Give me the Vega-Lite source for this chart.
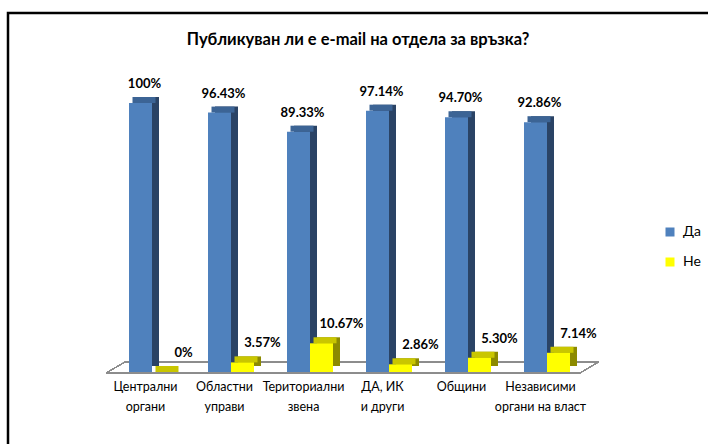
{
  "$schema": "https://vega.github.io/schema/vega-lite/v6.json",
  "autosize": "none",
  "width": 700,
  "height": 431,
  "padding": {"left": 8, "top": 13, "right": 0, "bottom": 0},
  "background": "white",
  "config": {
    "font": "Lato",
    "view": {"stroke": "black", "strokeWidth": 2.5, "strokeDash": [700, 1131, 431]}
  },
  "title": {
    "text": "Публикуван ли е e-mail на отдела за връзка?",
    "fontSize": 16.5,
    "fontWeight": "bold",
    "font": "Lato",
    "color": "black",
    "anchor": "middle",
    "offset": -35
  },
  "data": {
    "values": [
      {"cat": "Централни\nоргани", "series": "Да", "value": 100, "label": "100%"},
      {"cat": "Централни\nоргани", "series": "Не", "value": 0, "label": "0%"},
      {"cat": "Областни\nуправи", "series": "Да", "value": 96.43, "label": "96.43%"},
      {"cat": "Областни\nуправи", "series": "Не", "value": 3.57, "label": "3.57%"},
      {"cat": "Териториални\nзвена", "series": "Да", "value": 89.33, "label": "89.33%"},
      {"cat": "Териториални\nзвена", "series": "Не", "value": 10.67, "label": "10.67%"},
      {"cat": "ДА, ИК\nи други", "series": "Да", "value": 97.14, "label": "97.14%"},
      {"cat": "ДА, ИК\nи други", "series": "Не", "value": 2.86, "label": "2.86%"},
      {"cat": "Общини", "series": "Да", "value": 94.70, "label": "94.70%"},
      {"cat": "Общини", "series": "Не", "value": 5.30, "label": "5.30%"},
      {"cat": "Независими\nоргани на власт", "series": "Да", "value": 92.86, "label": "92.86%"},
      {"cat": "Независими\nоргани на власт", "series": "Не", "value": 7.14, "label": "7.14%"}
    ]
  },
  "encoding": {
    "x": {
      "field": "cat", "type": "nominal",
      "scale": {
        "domain": ["Централни\nоргани", "Областни\nуправи", "Териториални\nзвена", "ДА, ИК\nи други", "Общини", "Независими\nоргани на власт"],
        "range": [98, 572], "paddingInner": 0, "paddingOuter": 0
      },
      "axis": null
    },
    "y": {
      "field": "value", "type": "quantitative",
      "scale": {"domain": [0, 100], "range": [359, 90], "nice": false, "zero": true},
      "axis": null
    }
  },
  "layer": [
    {
      "mark": {"type": "rule", "color": "#8c8c8c", "strokeWidth": 1, "xOffset": -39.5, "x2Offset": 39.5, "yOffset": 1, "y2Offset": 1},
      "encoding": {
        "x": {"datum": "Централни\nоргани"},
        "x2": {"datum": "Независими\nоргани на власт"},
        "y": {"datum": 0},
        "y2": {"datum": 0}
      }
    },
    {
      "mark": {"type": "rule", "color": "#8c8c8c", "strokeWidth": 1, "xOffset": -20.5, "x2Offset": 58, "yOffset": -10, "y2Offset": -10},
      "encoding": {
        "x": {"datum": "Централни\nоргани"},
        "x2": {"datum": "Независими\nоргани на власт"},
        "y": {"datum": 0},
        "y2": {"datum": 0}
      }
    },
    {
      "mark": {"type": "rule", "color": "#8c8c8c", "strokeWidth": 1, "xOffset": -39.5, "x2Offset": -20.5, "yOffset": 1, "y2Offset": -10},
      "encoding": {
        "x": {"datum": "Централни\nоргани"},
        "x2": {"datum": "Централни\nоргани"},
        "y": {"datum": 0},
        "y2": {"datum": 0}
      }
    },
    {
      "mark": {"type": "rule", "color": "#8c8c8c", "strokeWidth": 1, "xOffset": 39.5, "x2Offset": 58, "yOffset": 1, "y2Offset": -10},
      "encoding": {
        "x": {"datum": "Независими\nоргани на власт"},
        "x2": {"datum": "Независими\nоргани на власт"},
        "y": {"datum": 0},
        "y2": {"datum": 0}
      }
    },
    {
      "transform": [{"filter": "datum.series === 'Да'"}],
      "mark": {"type": "bar", "width": 23, "xOffset": 2, "yOffset": -6, "y2Offset": -6, "color": "#2a4365"}
    },
    {
      "transform": [{"filter": "datum.series === 'Не'"}],
      "mark": {"type": "bar", "width": 23, "xOffset": 25, "yOffset": -6, "y2Offset": -6, "color": "#8c8a00"}
    },
    {
      "transform": [{"filter": "datum.series === 'Да'"}],
      "mark": {"type": "bar", "width": 23, "xOffset": -1.5, "yOffset": -6, "color": "#3c6495"},
      "encoding": {"y2": {"field": "value"}}
    },
    {
      "transform": [{"filter": "datum.series === 'Не'"}],
      "mark": {"type": "bar", "width": 23, "xOffset": 21.5, "yOffset": -6, "color": "#c9c600"},
      "encoding": {"y2": {"field": "value"}}
    },
    {
      "transform": [{"filter": "datum.series === 'Да'"}],
      "mark": {"type": "bar", "width": 23, "xOffset": -5},
      "encoding": {
        "color": {
          "field": "series", "type": "nominal",
          "scale": {"domain": ["Да", "Не"], "range": ["#4f81bd", "#ffff00"]},
          "legend": {
            "title": null, "orient": "none", "legendX": 655, "legendY": 212,
            "symbolType": "square", "symbolSize": 81, "symbolStrokeWidth": 0,
            "labelFontSize": 14, "labelFont": "Lato", "labelColor": "black",
            "rowPadding": 16, "labelOffset": 6
          }
        }
      }
    },
    {
      "transform": [{"filter": "datum.series === 'Не'"}],
      "mark": {"type": "bar", "width": 23, "xOffset": 18},
      "encoding": {
        "color": {"field": "series", "type": "nominal"}
      }
    },
    {
      "transform": [{"filter": "datum.series === 'Да'"}],
      "mark": {"type": "text", "fontWeight": "bold", "fontSize": 13, "baseline": "middle", "dy": -19, "dx": -1, "color": "black"},
      "encoding": {"text": {"field": "label"}}
    },
    {
      "transform": [{"filter": "datum.series === 'Не'"}],
      "mark": {"type": "text", "fontWeight": "bold", "fontSize": 13, "baseline": "middle", "dy": -19, "dx": 38, "color": "black"},
      "encoding": {"text": {"field": "label"}}
    },
    {
      "transform": [{"filter": "datum.series === 'Да'"}],
      "mark": {"type": "text", "fontSize": 12.5, "baseline": "top", "dy": 9, "lineHeight": 20, "lineBreak": "\n", "color": "black"},
      "encoding": {
        "y": {"datum": 0},
        "text": {"field": "cat"}
      }
    }
  ]
}
